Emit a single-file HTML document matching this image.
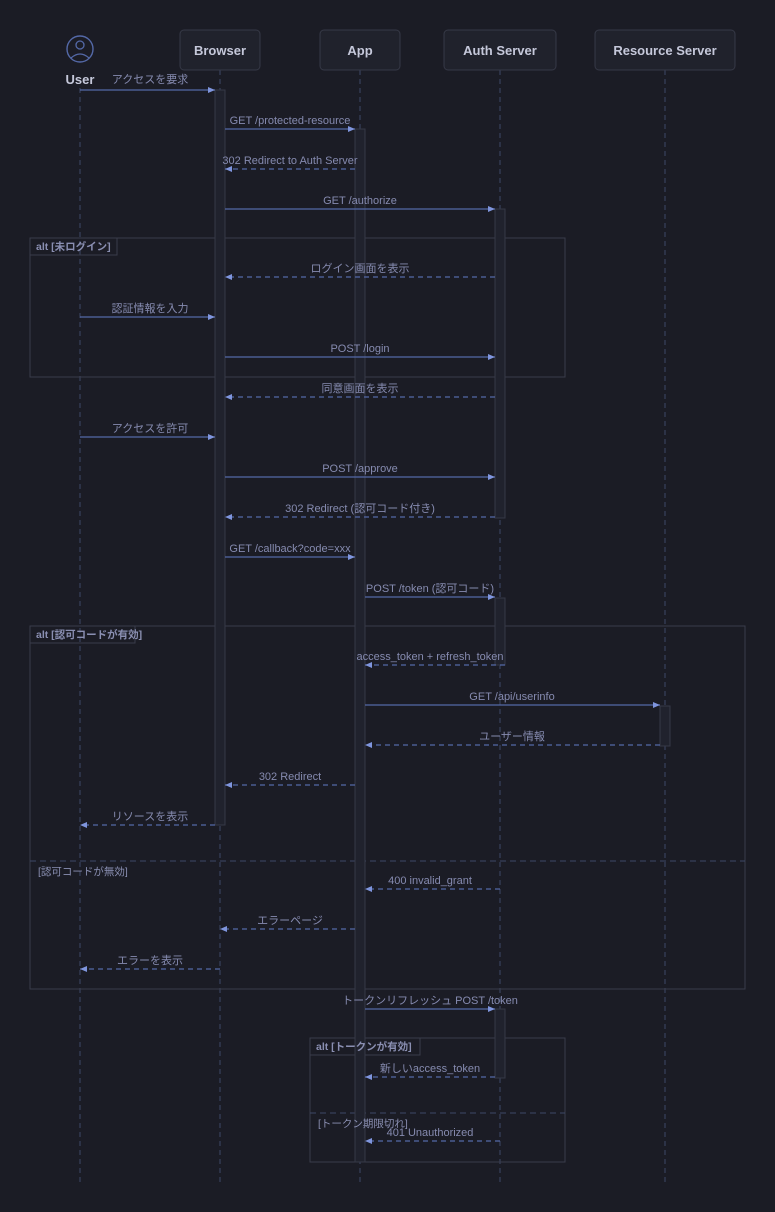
<!DOCTYPE html>
<html><head><meta charset="utf-8"><style>
html,body{margin:0;padding:0;background:#1b1c25;}
svg{display:block;}
text{font-family:"Liberation Sans","Noto Sans CJK JP",sans-serif;}
.lbl{font-size:11px;fill:#868bb0;text-anchor:middle;}
.act{font-size:13px;font-weight:bold;fill:#c5c8da;text-anchor:middle;}
.life{stroke:#3c4766;stroke-width:1;stroke-dasharray:5,4;}
.sol{stroke:#5469a8;stroke-width:1.2;}
.dash{stroke:#5469a8;stroke-width:1.2;stroke-dasharray:5,4;}
.box{fill:none;stroke:#3a3c4a;stroke-width:1;}
.actv{fill:#20222d;stroke:#363947;stroke-width:1;}
.alt{font-size:10.5px;font-weight:bold;fill:#8a8fb2;}
.guard{font-size:10.5px;fill:#8a8fb2;}
</style></head><body>
<svg width="775" height="1212" viewBox="0 0 775 1212" xmlns="http://www.w3.org/2000/svg">
<defs>
<marker id="ar" markerWidth="8" markerHeight="6" refX="7" refY="3" orient="auto" markerUnits="userSpaceOnUse">
<path d="M0,0 L7,3 L0,6 z" fill="#7f95dd"/></marker>
</defs>
<rect width="775" height="1212" fill="#1b1c25"/>
<!-- lifelines -->
<line class="life" x1="80" y1="88" x2="80" y2="1182"/>
<line class="life" x1="220" y1="70" x2="220" y2="1182"/>
<line class="life" x1="360" y1="70" x2="360" y2="1182"/>
<line class="life" x1="500" y1="70" x2="500" y2="1182"/>
<line class="life" x1="665" y1="70" x2="665" y2="1182"/>
<!-- actors -->
<circle cx="80" cy="49" r="13" fill="none" stroke="#5469a8" stroke-width="1.4"/>
<circle cx="80" cy="45" r="4" fill="none" stroke="#5469a8" stroke-width="1.3"/>
<path d="M71,58 Q80,50 89,58" fill="none" stroke="#5469a8" stroke-width="1.3"/>
<text class="act" x="80" y="84">User</text>
<rect x="180" y="30" width="80" height="40" rx="4" fill="#20222c" stroke="#363947"/>
<text class="act" x="220" y="55">Browser</text>
<rect x="320" y="30" width="80" height="40" rx="4" fill="#20222c" stroke="#363947"/>
<text class="act" x="360" y="55">App</text>
<rect x="444" y="30" width="112" height="40" rx="4" fill="#20222c" stroke="#363947"/>
<text class="act" x="500" y="55">Auth Server</text>
<rect x="595" y="30" width="140" height="40" rx="4" fill="#20222c" stroke="#363947"/>
<text class="act" x="665" y="55">Resource Server</text>
<!-- alt boxes -->
<rect class="box" x="30" y="238" width="535" height="139"/>
<path d="M30,255 H117 V238" class="box"/>
<rect class="box" x="30" y="626" width="715" height="363"/>
<path d="M30,643 H135 V626" class="box"/>
<line x1="30" y1="861" x2="745" y2="861" stroke="#3c4766" stroke-dasharray="6,4"/>
<rect class="box" x="310" y="1038" width="255" height="124"/>
<path d="M310,1055 H420 V1038" class="box"/>
<line x1="310" y1="1113" x2="565" y2="1113" stroke="#3c4766" stroke-dasharray="6,4"/>
<!-- activations -->
<rect class="actv" x="215" y="90" width="10" height="735"/>
<rect class="actv" x="355" y="129" width="10" height="1033"/>
<rect class="actv" x="495" y="209" width="10" height="309"/>
<rect class="actv" x="495" y="598" width="10" height="67"/>
<rect class="actv" x="495" y="1009" width="10" height="69"/>
<rect class="actv" x="660" y="706" width="10" height="40"/>
<!-- alt labels on top -->
<text class="alt" x="36" y="250">alt [未ログイン]</text>
<text class="alt" x="36" y="638">alt [認可コードが有効]</text>
<text class="guard" x="38" y="875">[認可コードが無効]</text>
<text class="alt" x="316" y="1050">alt [トークンが有効]</text>
<text class="guard" x="318" y="1127">[トークン期限切れ]</text>
<!-- messages -->
<g marker-end="url(#ar)">
<line class="sol" x1="80" y1="90" x2="215" y2="90"/>
<line class="sol" x1="225" y1="129" x2="355" y2="129"/>
<line class="dash" x1="355" y1="169" x2="225" y2="169"/>
<line class="sol" x1="225" y1="209" x2="495" y2="209"/>
<line class="dash" x1="495" y1="277" x2="225" y2="277"/>
<line class="sol" x1="80" y1="317" x2="215" y2="317"/>
<line class="sol" x1="225" y1="357" x2="495" y2="357"/>
<line class="dash" x1="495" y1="397" x2="225" y2="397"/>
<line class="sol" x1="80" y1="437" x2="215" y2="437"/>
<line class="sol" x1="225" y1="477" x2="495" y2="477"/>
<line class="dash" x1="495" y1="517" x2="225" y2="517"/>
<line class="sol" x1="225" y1="557" x2="355" y2="557"/>
<line class="sol" x1="365" y1="597" x2="495" y2="597"/>
<line class="dash" x1="505" y1="665" x2="365" y2="665"/>
<line class="sol" x1="365" y1="705" x2="660" y2="705"/>
<line class="dash" x1="660" y1="745" x2="365" y2="745"/>
<line class="dash" x1="355" y1="785" x2="225" y2="785"/>
<line class="dash" x1="215" y1="825" x2="80" y2="825"/>
<line class="dash" x1="500" y1="889" x2="365" y2="889"/>
<line class="dash" x1="355" y1="929" x2="220" y2="929"/>
<line class="dash" x1="220" y1="969" x2="80" y2="969"/>
<line class="sol" x1="365" y1="1009" x2="495" y2="1009"/>
<line class="dash" x1="495" y1="1077" x2="365" y2="1077"/>
<line class="dash" x1="500" y1="1141" x2="365" y2="1141"/>
</g>
<!-- labels -->
<text class="lbl" x="150" y="83">アクセスを要求</text>
<text class="lbl" x="290" y="124">GET /protected-resource</text>
<text class="lbl" x="290" y="164">302 Redirect to Auth Server</text>
<text class="lbl" x="360" y="204">GET /authorize</text>
<text class="lbl" x="360" y="272">ログイン画面を表示</text>
<text class="lbl" x="150" y="312">認証情報を入力</text>
<text class="lbl" x="360" y="352">POST /login</text>
<text class="lbl" x="360" y="392">同意画面を表示</text>
<text class="lbl" x="150" y="432">アクセスを許可</text>
<text class="lbl" x="360" y="472">POST /approve</text>
<text class="lbl" x="360" y="512">302 Redirect (認可コード付き)</text>
<text class="lbl" x="290" y="552">GET /callback?code=xxx</text>
<text class="lbl" x="430" y="592">POST /token (認可コード)</text>
<text class="lbl" x="430" y="660">access_token + refresh_token</text>
<text class="lbl" x="512" y="700">GET /api/userinfo</text>
<text class="lbl" x="512" y="740">ユーザー情報</text>
<text class="lbl" x="290" y="780">302 Redirect</text>
<text class="lbl" x="150" y="820">リソースを表示</text>
<text class="lbl" x="430" y="884">400 invalid_grant</text>
<text class="lbl" x="290" y="924">エラーページ</text>
<text class="lbl" x="150" y="964">エラーを表示</text>
<text class="lbl" x="430" y="1004">トークンリフレッシュ POST /token</text>
<text class="lbl" x="430" y="1072">新しいaccess_token</text>
<text class="lbl" x="430" y="1136">401 Unauthorized</text>
</svg>
</body></html>
